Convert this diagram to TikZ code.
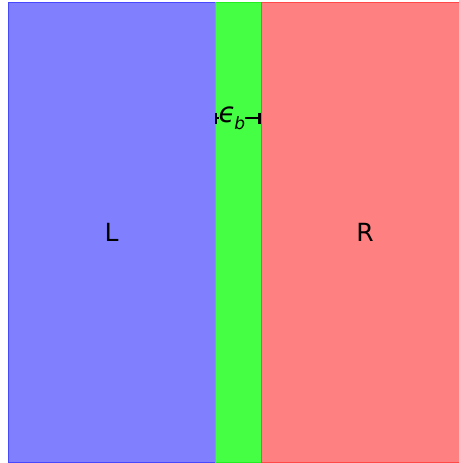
\documentclass[tikz,border=0pt]{standalone}
\usepackage{fontspec}
\usetikzlibrary{arrows.meta}
\setmainfont{DejaVu Sans}
\newfontfamily\djit{DejaVu Sans Oblique}
\definecolor{lblue}{HTML}{8080FF}
\definecolor{eblue}{HTML}{4848FF}
\definecolor{lgreen}{HTML}{44FF44}
\definecolor{egreen}{HTML}{22EE22}
\definecolor{lred}{HTML}{FF8080}
\definecolor{ered}{HTML}{FF4848}
\begin{document}
\begin{tikzpicture}[x=1pt,y=-1pt,
  region/.style={line width=1pt},
  lab/.style={font=\fontsize{25}{25}\selectfont, text=black},
  dimline/.style={line width=2pt, {Bar[width=11pt, line width=2.5pt]}-}]
\useasboundingbox (0,0) rectangle (458,463);
\fill[white] (0,0) rectangle (458,463);
\filldraw[region, fill=lblue, draw=eblue] (8,2) rectangle (215,462);
\filldraw[region, fill=lgreen, draw=egreen] (215,2) rectangle (261,462);
\filldraw[region, fill=lred, draw=ered] (261,2) rectangle (460,462);
\node[lab] (L) at (111.5,232) {L};
\node[lab] (R) at (365,232) {R};
\node[inner sep=0pt, anchor=base west, font=\fontsize{28}{28}\selectfont] (eps) at (218.5,122) {\djit ϵ\kern-1.5pt\raisebox{-7pt}{\fontsize{17}{17}\selectfont b}};
\coordinate (a) at (214.5,118);
\coordinate (b) at (260.5,118);
\coordinate (ae) at (218.5,118);
\coordinate (be) at (245,118);
\draw[dimline] (a) -- (ae);
\draw[dimline] (b) -- (be);
\end{tikzpicture}
\end{document}
